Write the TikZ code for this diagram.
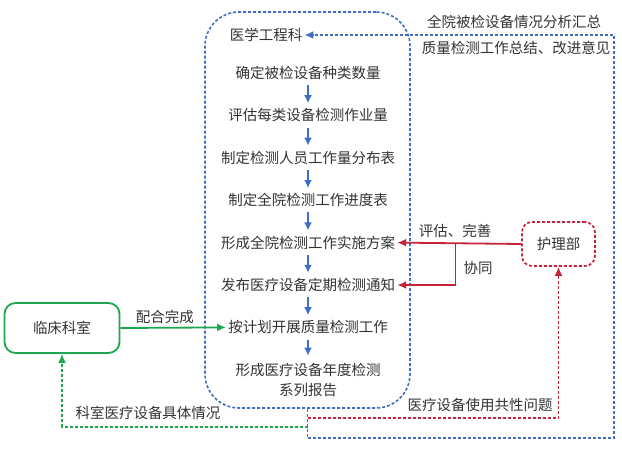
\documentclass[tikz,border=0pt]{standalone}
\usepackage{fontspec}
\setmainfont{Noto Sans CJK SC}
\usetikzlibrary{positioning,arrows.meta,calc}
\definecolor{flowblue}{HTML}{3F6FC4}
\definecolor{flowred}{HTML}{C4243A}
\definecolor{flowgreen}{HTML}{1FA650}
\definecolor{textgray}{HTML}{333333}
\tikzset{
  stage/.style={align=center, minimum height=20pt, inner sep=2pt, text=textgray, font=\fontsize{14.5}{20}\selectfont},
  tag/.style={inner sep=1pt, text=textgray, font=\fontsize{14.5}{20}\selectfont},
  frame/.style={draw=flowblue, dash pattern=on 3pt off 2pt, line width=1.6pt, rounded corners=34pt, minimum width=205pt, minimum height=396pt},
  clinic/.style={draw=flowgreen, line width=1.8pt, rounded corners=11pt, minimum width=115pt, minimum height=50pt, text=textgray, font=\fontsize{14.5}{20}\selectfont},
  nursing/.style={draw=flowred, dash pattern=on 3pt off 2pt, line width=1.7pt, rounded corners=10pt, minimum width=73pt, minimum height=44pt, text=textgray, font=\fontsize{14.5}{20}\selectfont},
  bluearrow/.style={-{Latex[length=8pt,width=8pt]}, flowblue, line width=1.8pt, shorten <=2pt, shorten >=2pt},
  bluedash/.style={-{Latex[length=9pt,width=8pt]}, flowblue, line width=1.6pt, dash pattern=on 3pt off 2pt},
  redarrow/.style={-{Latex[length=9pt,width=8pt]}, flowred, line width=1.8pt},
  reddash/.style={-{Latex[length=9pt,width=8pt]}, flowred, line width=1.6pt, dash pattern=on 3pt off 2pt},
  greenarrow/.style={-{Latex[length=9pt,width=8pt]}, flowgreen, line width=1.8pt},
  greendash/.style={-{Latex[length=9pt,width=8pt]}, flowgreen, line width=1.6pt, dash pattern=on 3pt off 2pt}
}
\begin{document}
\begin{tikzpicture}[x=1pt, y=-1pt, node distance=22pt]
  \useasboundingbox (0,0) rectangle (622,456);
  % outer frame and steps
  \node[frame] (frame) at (307.5,210) {};
  \node[stage] (yxgc) at (266,35) {医学工程科};
  \node[stage] (qd) at (308,73) {确定被检设备种类数量};
  \node[stage, below=of qd] (pg) {评估每类设备检测作业量};
  \node[stage, below=of pg] (zdry) {制定检测人员工作量分布表};
  \node[stage, below=of zdry] (zdjd) {制定全院检测工作进度表};
  \node[stage, below=of zdjd] (fa) {形成全院检测工作实施方案};
  \node[stage, below=of fa] (tz) {发布医疗设备定期检测通知};
  \node[stage, below=of tz] (kz) {按计划开展质量检测工作};
  \node[stage, below=20pt of kz, minimum height=44pt] (bg) {形成医疗设备年度检测\\系列报告};
  \foreach \a/\b in {qd/pg, pg/zdry, zdry/zdjd, zdjd/fa, fa/tz, tz/kz, kz/bg}
    \draw[bluearrow] (\a) -- (\b);
  % departments
  \node[clinic] (lcks) at (62,328) {临床科室};
  \node[nursing] (hlb) at (558.5,244) {护理部};
  % blue feedback loop
  \coordinate (loopcorner) at (614,438);
  \draw[bluedash] (frame.south) |- (loopcorner) |- (yxgc.east);
  \node[tag] (hz) at (514,22) {全院被检设备情况分析汇总};
  \node[tag] (zj) at (516,48) {质量检测工作总结、改进意见};
  % nursing department
  \draw[redarrow] (hlb.west) -- (fa.east);
  \coordinate (split) at ($(hlb.west)!0.53!(fa.east)$);
  \draw[redarrow] (split) |- (tz.east);
  \node[tag] (pgws) at (455,231) {评估、完善};
  \node[tag] (xt) at (478,268) {协同};
  \draw[reddash] ($(frame.south)+(0,9)$) -| (hlb.south);
  \node[tag] (gx) at (480,405) {医疗设备使用共性问题};
  % clinical department
  \draw[greenarrow] (lcks.east) -- node[tag, above=2pt, pos=0.42] (ph) {配合完成} (kz.west);
  \draw[greendash] ($(frame.south)+(0,18)$) -| (lcks.south);
  \node[tag] (jt) at (148,413) {科室医疗设备具体情况};
\end{tikzpicture}
\end{document}
